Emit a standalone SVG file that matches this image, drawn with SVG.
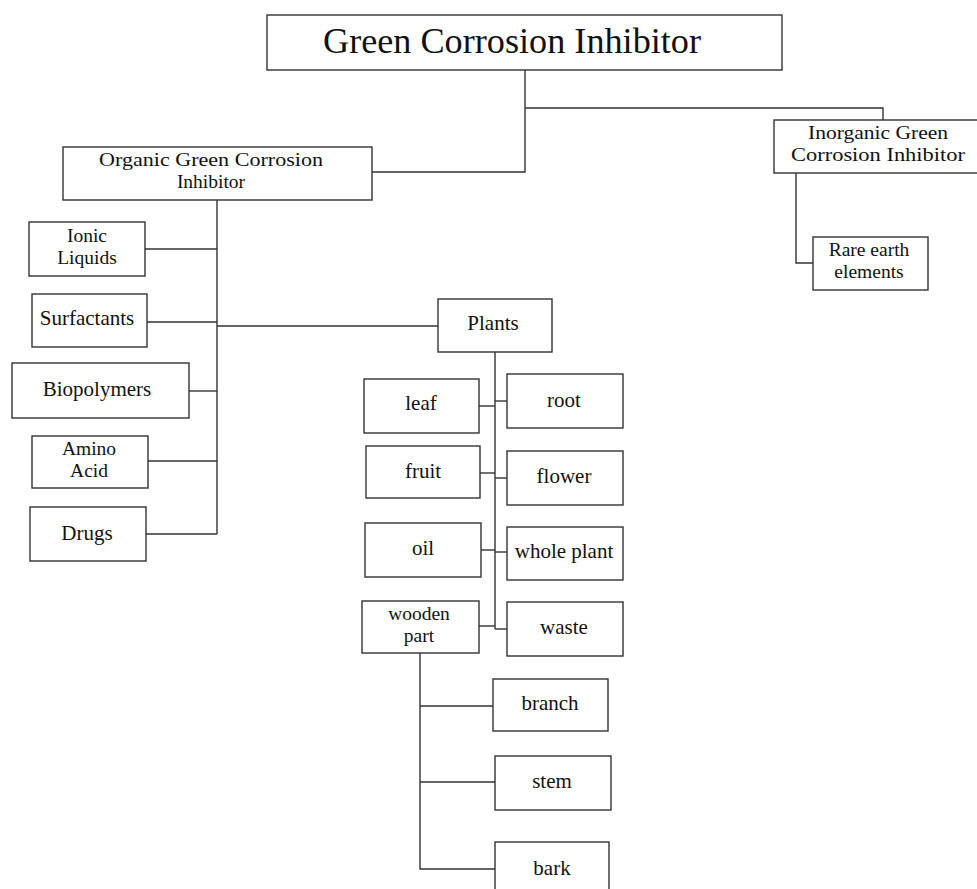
<svg xmlns="http://www.w3.org/2000/svg" width="977" height="889" viewBox="0 0 977 889">
<style>
rect{fill:#fff;stroke:#333;stroke-width:1.4}
.c{fill:none;stroke:#333;stroke-width:1.4}
text{font-family:"Liberation Serif","Times New Roman",serif;font-size:21px;fill:#111;text-anchor:middle}
.t{font-size:35px}
.m{font-size:19.5px}
</style>
<rect x="0" y="0" width="977" height="889" style="stroke:none"/>
<g id="connectors">
<polyline class="c" points="525,70 525,172 372,172"/>
<polyline class="c" points="525,108 883,108 883,120"/>
<polyline class="c" points="796,173 796,263 813,263"/>
<line class="c" x1="217" y1="200" x2="217" y2="534"/>
<line class="c" x1="145" y1="249" x2="217" y2="249"/>
<line class="c" x1="147" y1="322" x2="217" y2="322"/>
<line class="c" x1="189" y1="391" x2="217" y2="391"/>
<line class="c" x1="148" y1="461" x2="217" y2="461"/>
<line class="c" x1="146" y1="534" x2="217" y2="534"/>
<line class="c" x1="217" y1="326" x2="438" y2="326"/>
<line class="c" x1="495" y1="352" x2="495" y2="629"/>
<line class="c" x1="479" y1="406" x2="495" y2="406"/>
<line class="c" x1="495" y1="401" x2="507" y2="401"/>
<line class="c" x1="480" y1="473" x2="495" y2="473"/>
<line class="c" x1="495" y1="478" x2="507" y2="478"/>
<line class="c" x1="481" y1="550" x2="495" y2="550"/>
<line class="c" x1="495" y1="552" x2="507" y2="552"/>
<line class="c" x1="479" y1="626" x2="495" y2="626"/>
<line class="c" x1="495" y1="629" x2="507" y2="629"/>
<polyline class="c" points="420,653 420,869 495,869"/>
<line class="c" x1="420" y1="706" x2="493" y2="706"/>
<line class="c" x1="420" y1="782" x2="495" y2="782"/>
</g>
<g id="n-main"><rect x="267" y="15" width="515" height="55"/><text class="t" x="512" y="53" textLength="378" lengthAdjust="spacingAndGlyphs">Green Corrosion Inhibitor</text></g>
<g id="n-organic"><rect x="63" y="147" width="309" height="53"/><text class="m" x="211" y="166" textLength="224" lengthAdjust="spacingAndGlyphs">Organic Green Corrosion</text><text class="m" x="211" y="188">Inhibitor</text></g>
<g id="n-inorganic"><rect x="774" y="120" width="210" height="53"/><text class="m" x="878" y="139" textLength="140" lengthAdjust="spacingAndGlyphs">Inorganic Green</text><text class="m" x="878" y="161" textLength="174" lengthAdjust="spacingAndGlyphs">Corrosion Inhibitor</text></g>
<g id="n-rare"><rect x="813" y="237" width="115" height="53"/><text class="m" x="869" y="256">Rare earth</text><text class="m" x="869" y="278">elements</text></g>
<g id="n-ionic"><rect x="29" y="222" width="116" height="54"/><text class="m" x="87" y="242">Ionic</text><text class="m" x="87" y="264">Liquids</text></g>
<g id="n-surf"><rect x="32" y="294" width="115" height="53"/><text x="87" y="325">Surfactants</text></g>
<g id="n-bio"><rect x="12" y="363" width="177" height="55"/><text x="97" y="396">Biopolymers</text></g>
<g id="n-amino"><rect x="32" y="436" width="116" height="52"/><text class="m" x="89" y="455">Amino</text><text class="m" x="89" y="477">Acid</text></g>
<g id="n-drugs"><rect x="30" y="507" width="116" height="54"/><text x="87" y="540">Drugs</text></g>
<g id="n-plants"><rect x="438" y="299" width="114" height="53"/><text x="493" y="330">Plants</text></g>
<g id="n-leaf"><rect x="364" y="379" width="115" height="54"/><text x="421" y="410">leaf</text></g>
<g id="n-root"><rect x="507" y="374" width="116" height="54"/><text x="564" y="407">root</text></g>
<g id="n-fruit"><rect x="366" y="446" width="114" height="52"/><text x="423" y="478">fruit</text></g>
<g id="n-flower"><rect x="507" y="451" width="116" height="54"/><text x="564" y="483">flower</text></g>
<g id="n-oil"><rect x="365" y="523" width="116" height="54"/><text x="423" y="555">oil</text></g>
<g id="n-whole"><rect x="507" y="527" width="116" height="53"/><text x="564" y="558">whole plant</text></g>
<g id="n-wooden"><rect x="362" y="601" width="117" height="52"/><text class="m" x="419" y="620">wooden</text><text class="m" x="419" y="642">part</text></g>
<g id="n-waste"><rect x="507" y="602" width="116" height="54"/><text x="564" y="634">waste</text></g>
<g id="n-branch"><rect x="493" y="679" width="115" height="52"/><text x="550" y="710">branch</text></g>
<g id="n-stem"><rect x="495" y="756" width="116" height="54"/><text x="552" y="788">stem</text></g>
<g id="n-bark"><rect x="495" y="842" width="114" height="60"/><text x="552" y="875">bark</text></g>
</svg>
